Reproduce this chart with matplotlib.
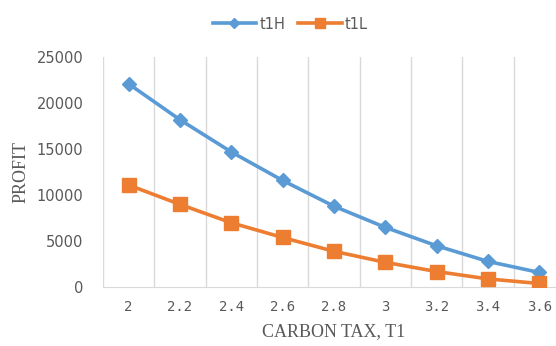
import numpy as np
import matplotlib
matplotlib.use("Agg")
from matplotlib import pyplot as plt

# carbon tax levels and profit for the two cases
tax = ["2", "2.2", "2.4", "2.6", "2.8", "3", "3.2", "3.4", "3.6"]
t1H = [22100, 18200, 14700, 11600, 8800, 6500, 4500, 2800, 1600]
t1L = [11100, 9000, 7000, 5400, 3900, 2700, 1700, 900, 400]

blue = "#5B9BD5"
orange = "#ED7D31"
grey = "#595959"

fig = plt.figure(figsize=(5.56, 3.46), dpi=100)
# right edge runs past the canvas so the last category is cut like the original
ax = fig.add_axes([0.185, 0.17, 0.831, 0.665])

x = np.arange(len(tax))
ax.plot(x, t1H, color=blue, lw=2.6, marker="D", ms=7.5, label="t1H", zorder=3)
ax.plot(x, t1L, color=orange, lw=2.6, marker="s", ms=9.5, label="t1L", zorder=3)

ax.set_xlim(-0.5, len(tax) - 0.5)
ax.set_ylim(0, 25000)
ax.set_yticks(np.arange(0, 25001, 5000))
ax.set_xticks(x)
ax.set_xticklabels(tax, family="DejaVu Sans Mono", fontsize=10, color=grey)
for lab in ax.get_yticklabels():
    lab.set_fontsize(10.5)
    lab.set_color(grey)

# vertical gridlines sit between the categories
for b in np.arange(-0.5, len(tax), 1.0):
    ax.axvline(b, color="#D9D9D9", lw=1, zorder=1)

for s in ["top", "right", "left"]:
    ax.spines[s].set_visible(False)
ax.spines["bottom"].set_color("#D9D9D9")
ax.tick_params(length=0, pad=9)
ax.tick_params(axis="y", pad=14)

ax.set_xlabel("CARBON TAX, T1", family="Liberation Serif", fontsize=13,
              color=grey, labelpad=7)
ax.set_ylabel("PROFIT", family="Liberation Serif", fontsize=13,
              color=grey, labelpad=5)

fig.legend(loc="upper center", bbox_to_anchor=(0.522, 0.99), ncol=2,
           frameon=False, fontsize=10.5, handlelength=3, columnspacing=0.9,
           handletextpad=0.2, markerscale=0.7, labelcolor=grey)

fig.savefig("out.png", dpi=100)
